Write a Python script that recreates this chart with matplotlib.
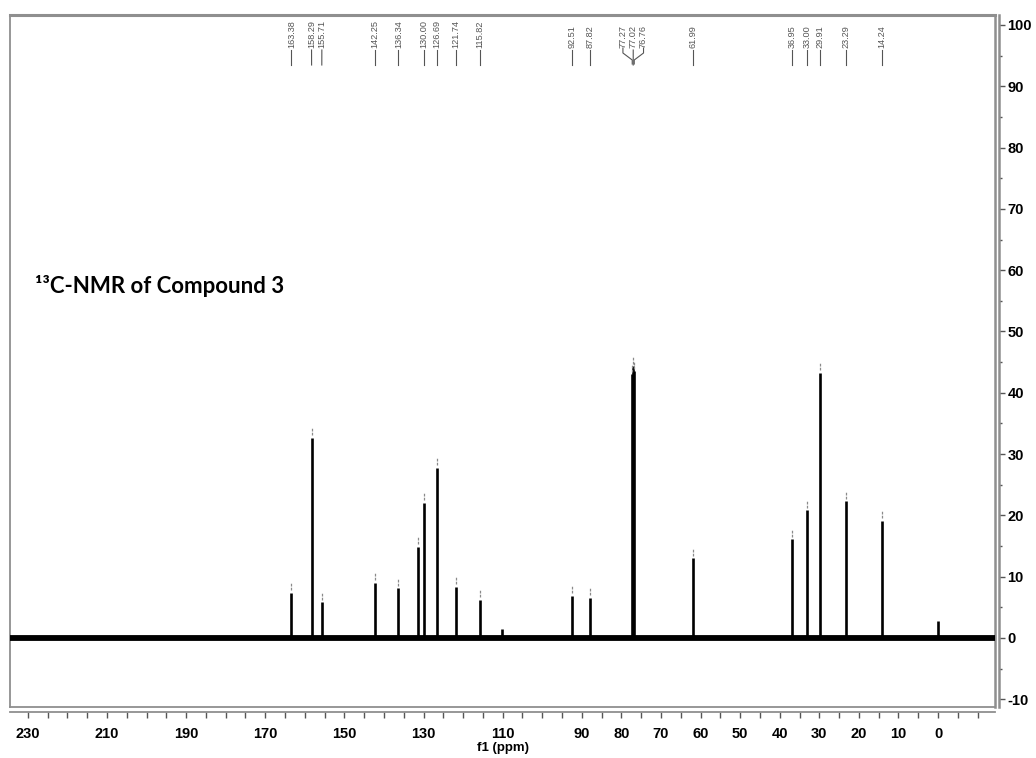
import matplotlib
matplotlib.use('Agg')
import matplotlib.pyplot as plt
import numpy as np
from matplotlib.transforms import blended_transform_factory

# ---------------- data ----------------
label_ppm = [163.38, 158.29, 155.71, 142.25, 136.34, 130.00, 126.69, 121.74,
             115.82, 92.51, 87.82, 77.27, 77.02, 76.76, 61.99, 36.95, 33.00,
             29.91, 23.29, 14.24]
label_height = [7.4, 32.7, 5.8, 9.0, 8.1, 22.0, 27.7, 8.3,
                6.2, 6.9, 6.6, 43.0, 44.3, 43.5, 13.0, 16.1, 20.8,
                43.2, 22.3, 19.1]
# peaks without a shift label
other_ppm = [131.40, 110.20, 0.00]
other_height = [14.8, 1.4, 2.7]
other_picked = [True, False, False]

x_tick_labels = [230, 210, 190, 170, 150, 130, 110, 90, 80, 70, 60, 50, 40, 30, 20, 10, 0]
y_tick_labels = [-10, 0, 10, 20, 30, 40, 50, 60, 70, 80, 90, 100]

title = '\u00b9\u00b3C-NMR of Compound 3'
xlabel = 'f1 (ppm)'

# ---------------- layout ----------------
W, H = 1036, 758
L, R, T, B = 10, 995, 15, 707
ppm_left, ppm_right = 234.5, -14.4
y_lo, y_hi = -11.26, 101.63

fig = plt.figure(figsize=(W / 100, H / 100), dpi=100)
fig.patch.set_facecolor('white')

ax = fig.add_axes([L / W, 1 - B / H, (R - L) / W, (B - T) / H])
ax.set_xlim(ppm_left, ppm_right)
ax.set_ylim(y_lo, y_hi)
ax.set_xticks([])
ax.set_yticks([])
for s in ax.spines.values():
    s.set_color('#8f8f8f')
    s.set_linewidth(1.3)
ax.spines['top'].set_linewidth(2.2)
ax.spines['right'].set_linewidth(1.8)

# baseline band
ax.plot([ppm_left - 0.0, ppm_right], [0, 0], color='black', lw=4.2,
        solid_capstyle='butt', zorder=3)

# peaks
all_ppm = label_ppm + other_ppm
all_h = label_height + other_height
ax.vlines(all_ppm, 0, all_h, colors='black', lw=1.9, zorder=4)

# peak-pick markers
picked_ppm = label_ppm + [p for p, f in zip(other_ppm, other_picked) if f]
picked_h = label_height + [h for h, f in zip(other_height, other_picked) if f]
ph = np.array(picked_h)
ax.vlines(picked_ppm, ph + 0.45, ph + 1.75, colors='#8a8a8a', lw=0.9,
          linestyles=(0, (2.2, 1.0)), zorder=4)

# ---------------- shift labels at top ----------------
trans = blended_transform_factory(ax.transData, ax.transAxes)
def yfrac(py):
    return (B - py) / (B - T)

ppm_per_px = (ppm_left - ppm_right) / (R - L)
min_gap = 10.3 * ppm_per_px

# simple declustering of label positions
order = np.argsort(label_ppm)[::-1]
pos = np.array(label_ppm, dtype=float)[order]
for _ in range(50):
    changed = False
    groups = [[0]]
    for i in range(1, len(pos)):
        if pos[groups[-1][-1]] - pos[i] < min_gap - 1e-6:
            groups[-1].append(i)
        else:
            groups.append([i])
    for g in groups:
        if len(g) > 1:
            c = np.mean(np.array(label_ppm)[order][g])
            n = len(g)
            new = c + (np.arange(n)[::-1] - (n - 1) / 2) * min_gap
            if not np.allclose(new, pos[g]):
                pos[g] = new
                changed = True
    if not changed:
        break
label_pos = np.empty(len(label_ppm))
label_pos[order] = pos

for p, lp in zip(label_ppm, label_pos):
    ax.text(lp, yfrac(48.5), f'{p:.2f}', rotation=90, ha='center', va='bottom',
            fontsize=6.6, color='#555555', family='Liberation Sans',
            transform=trans, clip_on=False)
    if abs(lp - p) < 1.6 * ppm_per_px:
        ax.plot([lp, p], [yfrac(50), yfrac(65)], color='#555555', lw=0.8,
                transform=trans, clip_on=False)
    else:
        ax.plot([lp, lp, p, p], [yfrac(48), yfrac(53), yfrac(60), yfrac(64)],
                color='#555555', lw=0.8, transform=trans, clip_on=False)

# ---------------- x axis (separate line below frame) ----------------
axx = fig.add_axes([L / W, 1 - 712 / H, (R - L) / W, 0.0001])
axx.set_xlim(ppm_left, ppm_right)
axx.set_ylim(0, 1)
axx.patch.set_alpha(0)
for k in ['top', 'left', 'right']:
    axx.spines[k].set_visible(False)
axx.spines['bottom'].set_color('#8f8f8f')
axx.spines['bottom'].set_linewidth(1.3)
axx.set_yticks([])
all_ticks = np.arange(-10, 231, 5)
axx.set_xticks(all_ticks)
axx.set_xticklabels([str(int(t)) if int(t) in x_tick_labels else '' for t in all_ticks])
axx.tick_params(axis='x', direction='out', length=4, width=1.0, color='#555555',
                pad=6.5, labelsize=10.5)
for t in axx.get_xticklabels():
    t.set_fontweight('bold')
    t.set_family('Liberation Sans')

fig.text(503 / W, 1 - 748 / H, xlabel, ha='center', va='center', fontsize=9.5,
         fontweight='bold', family='Liberation Sans')

# ---------------- right y axis ----------------
axy = fig.add_axes([999 / W, 1 - B / H, 0.0001, (B - T) / H])
axy.set_ylim(y_lo, y_hi)
axy.patch.set_alpha(0)
for k in ['top', 'left', 'bottom']:
    axy.spines[k].set_visible(False)
axy.spines['right'].set_color('#8f8f8f')
axy.spines['right'].set_linewidth(1.8)
axy.set_xticks([])
axy.yaxis.tick_right()
axy.set_yticks(y_tick_labels)
axy.set_yticklabels([str(v) for v in y_tick_labels])
axy.set_yticks(np.arange(-5, 100, 10), minor=True)
axy.tick_params(axis='y', which='major', direction='out', length=4, width=1.0,
                color='#555555', pad=2, labelsize=10.5)
axy.tick_params(axis='y', which='minor', direction='out', length=2, width=1.0,
                color='#555555')
for t in axy.get_yticklabels():
    t.set_fontweight('bold')
    t.set_family('Liberation Sans')

# ---------------- title ----------------
fig.text(35 / W, 1 - 286 / H, title, ha='left', va='center', fontsize=16,
         fontweight='bold', family='Lato')

fig.savefig('out.png', dpi=100, facecolor='white')
